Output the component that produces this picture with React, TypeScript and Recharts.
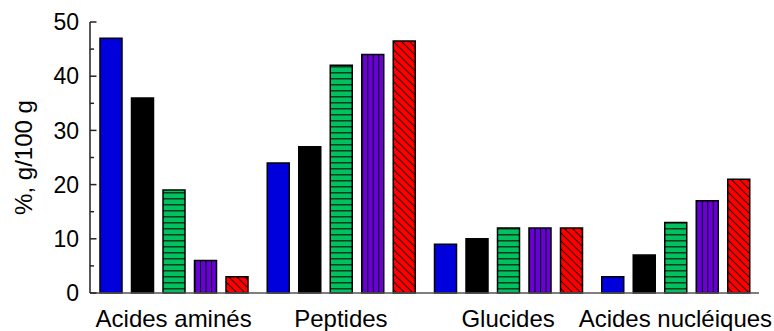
import React from 'react';
import { BarChart, Bar, XAxis, YAxis } from 'recharts';

const categories = ['Acides aminés', 'Peptides', 'Glucides', 'Acides nucléiques'];
const seriesBlue = [47, 24, 9, 3];
const seriesBlack = [36, 27, 10, 7];
const seriesGreen = [19, 42, 12, 13];
const seriesPurple = [6, 44, 12, 17];
const seriesRed = [3, 46.5, 12, 21];
const yTicks = [0, 5, 10, 15, 20, 25, 30, 35, 40, 45, 50];
const yLabel = '%, g/100 g';

const data = categories.map((c, i) => ({
  cat: c,
  blue: seriesBlue[i],
  black: seriesBlack[i],
  green: seriesGreen[i],
  purple: seriesPurple[i],
  red: seriesRed[i],
}));

const FONT = '"Liberation Sans", Arial, sans-serif';

const YTick = (props: any) => {
  const { x, y, payload } = props;
  const v = payload.value as number;
  const major = v % 10 === 0;
  return (
    <g>
      <line x1={x} x2={x + (major ? 6.5 : 4)} y1={y} y2={y} stroke="#222" strokeWidth={1.5} />
      {major && (
        <text x={x - 11} y={y} dy="0.36em" textAnchor="end" fontSize={23} fontFamily={FONT} fill="#000">
          {v}
        </text>
      )}
    </g>
  );
};

const XTick = (props: any) => {
  const { x, y, payload } = props;
  return (
    <text x={x} y={y} dy="0.71em" textAnchor="middle" fontSize={24} fontFamily={FONT} fill="#000">
      {payload.value}
    </text>
  );
};

const YLabel = (props: any) => {
  const vb = props.viewBox || { x: 0, y: 0, width: 0, height: 0 };
  const cx = vb.x + 32;
  const cy = vb.y + vb.height / 2;
  return (
    <text x={cx} y={cy} transform={`rotate(-90 ${cx} ${cy})`} textAnchor="middle" fontSize={24} fontFamily={FONT} fill="#000">
      {yLabel}
    </text>
  );
};

export default function App() {
  return (
    <div style={{ position: 'absolute', left: 0, top: 0, width: 774, height: 331, background: '#fff' }}>
      <svg width={0} height={0} style={{ position: 'absolute' }}>
        <defs>
          <pattern id="hGreen" patternUnits="userSpaceOnUse" width={10} height={6}>
            <rect width={10} height={6} fill="#00c060" />
            <line x1={0} x2={10} y1={0.75} y2={0.75} stroke="#0a3a1e" strokeWidth={1.5} />
          </pattern>
          <pattern id="vPurple" patternUnits="objectBoundingBox" width={0.25} height={1}>
            <rect width={100} height={1000} fill="#6a00d8" />
            <line x1={0} x2={0} y1={0} y2={1000} stroke="#000" strokeWidth={2} />
          </pattern>
          <pattern id="dRed" patternUnits="userSpaceOnUse" width={8} height={8}>
            <rect width={8} height={8} fill="#ff0000" />
            <path d="M0,0 L8,8 M-1,7 L1,9 M7,-1 L9,1" stroke="#300000" strokeWidth={1.1} />
          </pattern>
        </defs>
      </svg>
      <BarChart
        width={774}
        height={331}
        data={data}
        margin={{ top: 22, right: 15, left: 0, bottom: 0 }}
        barSize={22}
        barGap={9.5}
      >
        <XAxis
          dataKey="cat"
          height={38}
          axisLine={{ stroke: '#555', strokeWidth: 1.5 }}
          tickLine={false}
          tickSize={0}
          tickMargin={17}
          tick={<XTick />}
          interval={0}
        />
        <XAxis
          xAxisId="top"
          dataKey="cat"
          orientation="top"
          height={0}
          axisLine={{ stroke: '#666', strokeWidth: 1.5 }}
          tick={false}
          tickLine={false}
        />
        <YAxis
          domain={[0, 50]}
          ticks={yTicks}
          interval={0}
          width={90}
          axisLine={{ stroke: '#222', strokeWidth: 1.5 }}
          tickLine={false}
          tickSize={0}
          tickMargin={0}
          tick={<YTick />}
          label={<YLabel />}
        />
        <YAxis
          yAxisId="right"
          orientation="right"
          domain={[0, 50]}
          width={0}
          axisLine={{ stroke: '#666', strokeWidth: 1.5 }}
          tick={false}
          tickLine={false}
        />
        <Bar dataKey="blue" fill="#0000dd" stroke="#000" strokeWidth={1.5} isAnimationActive={false} />
        <Bar dataKey="black" fill="#000" stroke="#000" strokeWidth={1.5} isAnimationActive={false} />
        <Bar dataKey="green" fill="url(#hGreen)" stroke="#000" strokeWidth={1.5} isAnimationActive={false} />
        <Bar dataKey="purple" fill="url(#vPurple)" stroke="#000" strokeWidth={1.5} isAnimationActive={false} />
        <Bar dataKey="red" fill="url(#dRed)" stroke="#000" strokeWidth={1.5} isAnimationActive={false} />
      </BarChart>
    </div>
  );
}
